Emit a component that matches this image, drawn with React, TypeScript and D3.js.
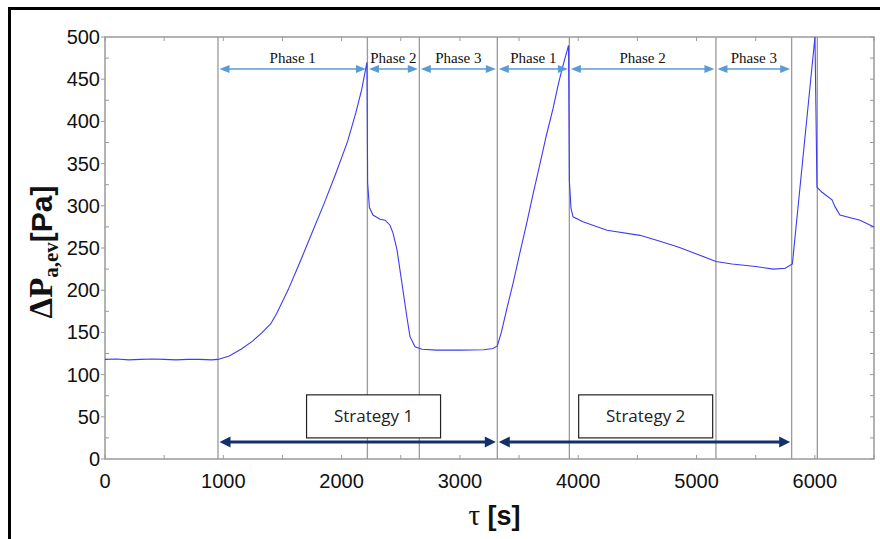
import React from 'react';
import * as d3 from 'd3';

// time [s] and pressure drop [Pa]
const timeS = [
  0, 100, 200, 300, 400, 500, 600, 700, 800, 900, 955,
  1050, 1150, 1250, 1330, 1370, 1400, 1450, 1550, 1650, 1750, 1850, 1950, 2050, 2120, 2170, 2214,
  2220, 2235, 2265, 2324, 2367, 2409, 2434, 2468, 2510, 2552, 2578, 2620, 2680, 2800, 3000, 3200, 3280, 3316,
  3350, 3400, 3449, 3500, 3567, 3620, 3677, 3730, 3787, 3830, 3863, 3918,
  3925, 3939, 3956, 4040, 4243, 4522, 4691, 4850, 5000, 5164, 5300, 5500, 5650, 5750, 5810,
  6001, 6018, 6061, 6145, 6170, 6212, 6382, 6500,
];
const pressurePa = [
  118, 118.5, 117.5, 118, 118.5, 118, 117.5, 118, 118, 117.5, 118,
  122, 130, 140, 150, 156, 160, 172, 201, 234, 268, 302, 338, 376, 410, 438, 470,
  327, 298, 289, 284, 283, 277, 268, 248, 208, 168, 145, 133, 130, 129, 129, 129.5, 131, 134,
  150, 180, 208, 240, 281, 315, 350, 383, 415, 443, 462, 490,
  330, 297, 287, 281, 271, 265, 258, 251, 243, 234, 231, 228, 225, 226, 231,
  500, 322, 316, 307, 299, 289, 283, 275,
];

const dividerTimes = [955, 2218, 2657, 3316, 3925, 5164, 5804, 6021];
const phaseLabels = ['Phase 1', 'Phase 2', 'Phase 3', 'Phase 1', 'Phase 2', 'Phase 3'];
const strategyLabels = ['Strategy 1', 'Strategy 2'];
const strategyBounds = [[955, 3316], [3316, 5804]];
const strategyBoxAt = [2270, 4570];

const xTicks = [0, 1000, 2000, 3000, 4000, 5000, 6000];
const yTicks = [0, 50, 100, 150, 200, 250, 300, 350, 400, 450, 500];

const W = 880;
const H = 539;
const margin = { left: 105, right: 6, top: 37, bottom: 80 };

const arrowHead = (x: number, y: number, dir: number, len: number, half: number) =>
  `M${x},${y}L${x - dir * len},${y - half}L${x - dir * len},${y + half}Z`;

const App = () => {
  const x = d3.scaleLinear().domain([0, 6500]).range([margin.left, W - margin.right]);
  const y = d3.scaleLinear().domain([0, 500]).range([H - margin.bottom, margin.top]);
  const [x0, x1] = x.range();
  const [yb, yt] = y.range();

  const line = d3
    .line<number>()
    .x((_, i) => x(timeS[i]))
    .y((d) => y(d));

  const minorX = d3.range(0, 6501, 500);
  const minorY = d3.range(0, 501, 25);

  const phaseY = y(462);
  const stratY = y(20);
  const gray = '#9a9a9a';

  return (
    <svg width={W} height={H} style={{ display: 'block', background: '#fff' }}>
      <style>{'body{margin:0}'}</style>
      <rect x={9.5} y={8.5} width={W + 10} height={H + 10} fill="none" stroke="#000" strokeWidth={3} />

      {/* ticks */}
      {minorX.map((t) => (
        <g key={'tx' + t} stroke={gray} strokeWidth={1}>
          <line x1={x(t)} x2={x(t)} y1={yb} y2={yb - 4} />
          <line x1={x(t)} x2={x(t)} y1={yt} y2={yt + 4} />
        </g>
      ))}
      {minorY.map((v) => (
        <g key={'ty' + v} stroke={gray} strokeWidth={1}>
          {v % 50 === 0 ? (
            <line x1={x0} x2={x0 - 4} y1={y(v)} y2={y(v)} />
          ) : (
            <line x1={x0} x2={x0 + 4} y1={y(v)} y2={y(v)} />
          )}
          <line x1={x1} x2={x1 - 4} y1={y(v)} y2={y(v)} />
        </g>
      ))}

      {/* phase dividers */}
      {dividerTimes.map((t) => (
        <line key={'d' + t} x1={x(t)} x2={x(t)} y1={yt} y2={yb} stroke={gray} strokeWidth={1.3} />
      ))}

      <rect x={x0} y={yt} width={x1 - x0} height={yb - yt} fill="none" stroke={gray} strokeWidth={1.5} />

      {/* trace */}
      <path d={line(pressurePa) || ''} fill="none" stroke="#3c3cf0" strokeWidth={1.1} />

      {/* phase arrows */}
      {phaseLabels.map((lab, i) => {
        const a = x(dividerTimes[i]) + 1.5;
        const b = x(dividerTimes[i + 1]) - 1.5;
        return (
          <g key={'p' + i}>
            <line x1={a + 8} x2={b - 8} y1={phaseY} y2={phaseY} stroke="#5b9bd5" strokeWidth={1.5} />
            <path d={arrowHead(a, phaseY, -1, 10, 4)} fill="#5b9bd5" />
            <path d={arrowHead(b, phaseY, 1, 10, 4)} fill="#5b9bd5" />
            <text
              x={(a + b) / 2}
              y={phaseY - 6}
              textAnchor="middle"
              fontFamily="'Liberation Serif', 'DejaVu Serif', serif"
              fontSize={15}
              fill="#111"
            >
              {lab}
            </text>
          </g>
        );
      })}

      {/* strategy arrows */}
      {strategyLabels.map((lab, i) => {
        const a = x(strategyBounds[i][0]) + 1.5;
        const b = x(strategyBounds[i][1]) - 1.5;
        const cx = x(strategyBoxAt[i]);
        return (
          <g key={'s' + i}>
            <line x1={a + 8} x2={b - 8} y1={stratY} y2={stratY} stroke="#13306e" strokeWidth={3} />
            <path d={arrowHead(a, stratY, -1, 11, 5.5)} fill="#13306e" />
            <path d={arrowHead(b, stratY, 1, 11, 5.5)} fill="#13306e" />
            <rect x={cx - 67} y={y(76)} width={134} height={y(25) - y(76)} fill="#fff" stroke="#222" strokeWidth={1.2} />
            <text
              x={cx}
              y={(y(76) + y(25)) / 2 + 6}
              textAnchor="middle"
              fontFamily="'Open Sans', sans-serif"
              fontSize={17}
              fill="#222"
            >
              {lab}
            </text>
          </g>
        );
      })}

      {/* tick labels */}
      {yTicks.map((v) => (
        <text key={'yl' + v} x={x0 - 5} y={y(v) + 7} textAnchor="end" fontFamily="'Liberation Sans', Arial, sans-serif" fontSize={20} fill="#111">
          {v}
        </text>
      ))}
      {xTicks.map((t) => (
        <text key={'xl' + t} x={x(t)} y={yb + 29} textAnchor="middle" fontFamily="'Liberation Sans', Arial, sans-serif" fontSize={20} fill="#111">
          {t}
        </text>
      ))}

      {/* axis titles */}
      <text transform={`translate(52,${(yt + yb) / 2 + 4}) rotate(-90)`} textAnchor="middle" fill="#111" fontWeight="bold">
        <tspan fontFamily="'Liberation Serif', serif" fontSize={33}>ΔP</tspan>
        <tspan fontFamily="'Liberation Serif', serif" fontSize={21} dy={6}>a,ev</tspan>
        <tspan fontFamily="'Liberation Sans', Arial, sans-serif" fontSize={30} dy={-6}>[Pa]</tspan>
      </text>
      <text x={(x0 + x1) / 2 + 5} y={525} textAnchor="middle" fill="#111">
        <tspan fontFamily="'Liberation Serif', serif" fontSize={29}>τ </tspan>
        <tspan fontFamily="'Liberation Sans', Arial, sans-serif" fontSize={27} fontWeight="bold">[s]</tspan>
      </text>
    </svg>
  );
};

export default App;
